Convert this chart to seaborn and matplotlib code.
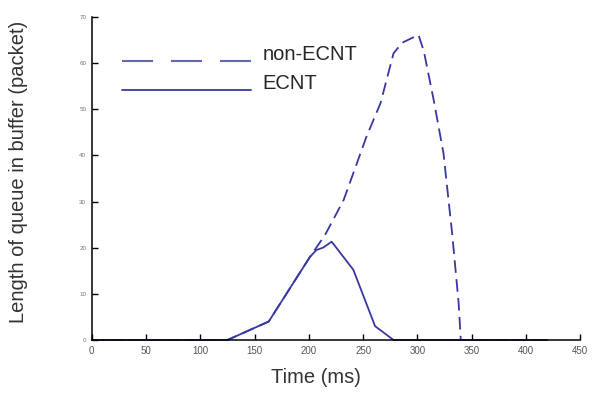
import numpy as np
import pandas as pd
import matplotlib
matplotlib.use("Agg")
import matplotlib.pyplot as plt
import matplotlib.transforms as mtransforms
import seaborn as sns
from matplotlib.lines import Line2D

# =========================
# DATA
# =========================

ecnt_time = [0, 125, 163, 201, 207, 213, 221, 241, 261, 278, 420]
ecnt_queue = [0, 0, 4, 18, 19.5, 20, 21.3, 15.2, 3, 0, 0]

non_time = [0, 125, 163, 201, 215, 232, 253, 266, 278, 286, 301, 306,
            315, 324, 332, 338, 340, 420]
non_queue = [0, 0, 4, 18, 22.8, 30.3, 44, 51.3, 62.1, 64.4, 66.1, 62.5,
             52, 40.5, 23.1, 8, 0, 0]

x_ticks = list(range(0, 451, 50))
y_ticks = list(range(0, 71, 10))

line_color = "#38389f"

# =========================
# FIGURE
# =========================

sns.set_style("ticks")
plt.rcParams["font.family"] = ["Liberation Sans", "DejaVu Sans"]

fig = plt.figure(figsize=(6, 3.96), dpi=100)
ax = fig.add_axes([0.153, 0.1414, 0.814, 0.816])

df_non = pd.DataFrame({"t": non_time, "q": non_queue})
df_ecnt = pd.DataFrame({"t": ecnt_time, "q": ecnt_queue})

sns.lineplot(
    data=df_non, x="t", y="q", ax=ax,
    color=line_color, linewidth=1.3,
    sort=False, estimator=None
)
ax.lines[-1].set_dashes((7, 3.5))

sns.lineplot(
    data=df_ecnt, x="t", y="q", ax=ax,
    color=line_color, linewidth=1.3,
    sort=False, estimator=None
)

for ln in ax.lines:
    ln.set_clip_on(False)

ax.set_xlim(0, 450)
ax.set_ylim(0, 70)
ax.set_xticks(x_ticks)
ax.set_yticks(y_ticks)
ax.set_xticklabels([str(v) for v in x_ticks], fontsize=7, color="#555555")
ax.set_yticklabels([str(v) for v in y_ticks], fontsize=4.5, color="#777777")
ax.tick_params(direction="in", length=4, width=1, color="black", pad=4)

ax.set_xlabel("Time (ms)", fontsize=14.5, color="#333333")
ax.set_ylabel("Length of queue in buffer (packet)", fontsize=14.5,
              color="#333333")
ax.xaxis.set_label_coords(0.459, -0.088)
ax.yaxis.set_label_coords(-0.131, 0.52)

sns.despine(ax=ax)
for sp in ["left", "bottom"]:
    ax.spines[sp].set_linewidth(1.1)
    ax.spines[sp].set_color("black")

# =========================
# LEGEND
# =========================

handles = [
    Line2D([], [], color="#6666b8", linewidth=1.5, dashes=(14.9, 8.6)),
    Line2D([], [], color=line_color, linewidth=1.3),
]
leg = ax.legend(
    handles, ["non-ECNT", "ECNT"],
    loc="upper left", bbox_to_anchor=(0.0615, 0.913),
    borderaxespad=0, borderpad=0,
    frameon=False, fontsize=14.5, handlelength=6.4,
    handletextpad=0.6, labelspacing=0.5
)

# handles sit a bit below the text, as in the original
shift = mtransforms.ScaledTranslation(0, -8 / 100, fig.dpi_scale_trans)
for h in leg.legend_handles:
    h.set_transform(h.get_transform() + shift)

plt.savefig("out.png", dpi=100)
